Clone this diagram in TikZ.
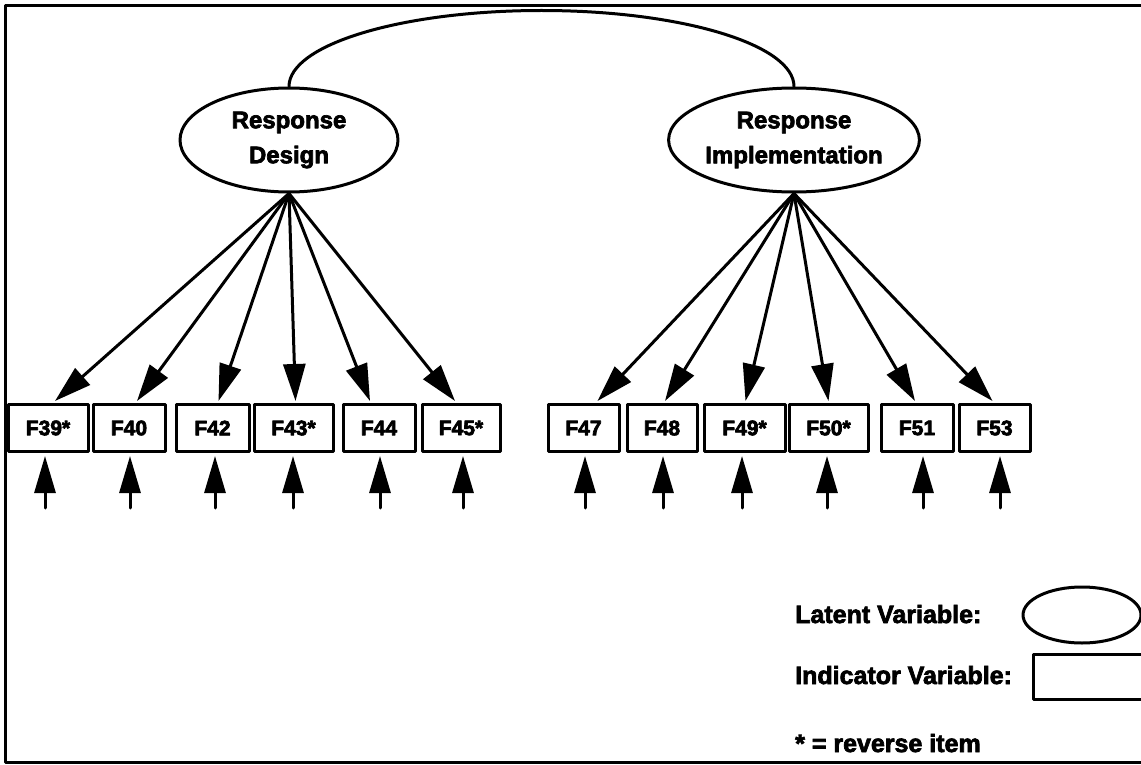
\documentclass[tikz,border=0pt]{standalone}
\usepackage{fontspec}
\setmainfont{Liberation Sans}
\usetikzlibrary{arrows.meta,shapes.geometric,calc}

% heavier bold: fill and stroke the glyph outlines
\newcommand\heavytext[1]{\special{pdf:literal direct 2 Tr 0.7 w}#1\special{pdf:literal direct 0 Tr}}

\tikzset{
  ink/.style={line width=3pt, line join=round, line cap=round},
  latent/.style={ink, draw, ellipse, inner sep=0pt, font=\fontsize{24}{35}\selectfont\bfseries, align=center},
  indicator/.style={ink, draw, rectangle, inner sep=0pt, minimum height=47pt, font=\fontsize{21}{24}\selectfont\bfseries},
  load/.style={ink, -{Triangle[length=37pt,width=22pt]}},
  err/.style={ink, -{Triangle[length=37pt,width=21pt]}, shorten >=3pt},
  legendtext/.style={anchor=base west, inner sep=0pt, font=\fontsize{25}{28}\selectfont\bfseries}
}

\begin{document}
\begin{tikzpicture}[x=1pt,y=-1pt]
\clip (0,0) rectangle (1141,765);
\fill[white] (0,0) rectangle (1141,765);

% outer frame
\draw[ink] (5,6) rectangle (1170,762);

% latent variables
\node[latent, minimum width=218pt, minimum height=104pt] (rd) at (289,140) {\heavytext{Response}\\\heavytext{Design}};
\node[latent, minimum width=206pt, minimum height=104pt] (ri) at (794,140) {\heavytext{Response}\\\heavytext{Implementation}};

% covariance between the two factors
\draw[ink] (rd.north) arc[start angle=180, end angle=360, x radius=252.5, y radius=76];

% indicator boxes: name/left/right/label
\foreach \n/\l/\r/\t in {39/8/88/F39*, 40/93/165/F40, 42/176/249/F42, 43/254/333/F43*, 44/343/415/F44, 45/422/500/F45*,
                         47/548/619/F47, 48/627/697/F48, 49/704/785/F49*, 50/789/868/F50*, 51/881/953/F51, 53/959/1030/F53}{
  \pgfmathsetmacro{\w}{\r-\l}
  \node[indicator, minimum width=\w pt] (b\n) at ({(\l+\r)/2},428) {\heavytext{\t}};
}

% factor loadings (tip offsets relative to each box's north point)
\foreach \n/\dx in {39/7, 40/8, 42/6, 43/2, 44/-9, 45/-6}{
  \draw[load] (rd.south) -- ($(b\n.north)+(\dx,-2)$);
}
\foreach \n/\dx in {47/14, 48/3, 49/1, 50/0, 51/-2, 53/-2}{
  \draw[load] (ri.south) -- ($(b\n.north)+(\dx,-2)$);
}

% error terms
\foreach \n/\x in {39/45, 40/130, 42/215, 43/293, 44/380, 45/463,
                   47/585, 48/663, 49/742, 50/827, 51/923, 53/1000}{
  \coordinate (e\n) at (\x,508);
  \draw[err] (e\n) -- (e\n |- b\n.south);
}

% legend
\node[legendtext] (lt) at (795,623) {\heavytext{Latent Variable:}};
\node[latent, minimum width=118pt, minimum height=56pt] (lv) at (1082,615) {};
\node[legendtext] (it) at (795,684) {\heavytext{Indicator Variable:}};
\node[indicator, minimum width=130pt, minimum height=45pt] (iv) at (1098,677) {};
\node[legendtext] (rv) at (795,752) {\heavytext{* = reverse item}};
\end{tikzpicture}
\end{document}
